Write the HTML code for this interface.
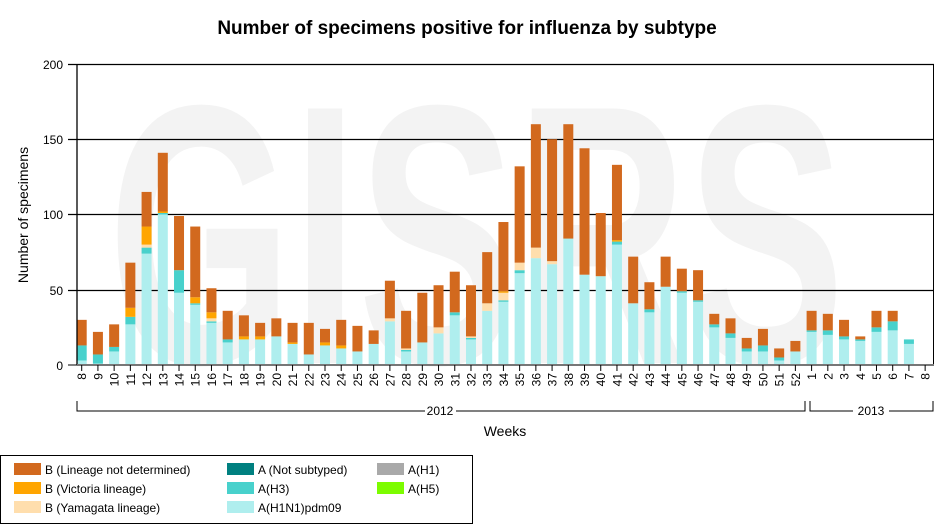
<!DOCTYPE html>
<html><head><meta charset="utf-8"><style>
html,body{margin:0;padding:0;background:#fff;}
svg{display:block;font-family:"Liberation Sans",Arial,sans-serif;}
</style></head><body>
<svg id="s" width="935" height="529" viewBox="0 0 935 529" xmlns="http://www.w3.org/2000/svg">
<g transform="translate(108,363) scale(0.64,1)"><text x="0" y="0" font-size="370" font-weight="bold" fill="#f3f3f3">GISRS</text></g>
<text x="467" y="34" font-size="19" font-weight="bold" text-anchor="middle" fill="#000">Number of specimens positive for influenza by subtype</text>
<g id="grid"></g>
<g id="bars"></g>
<line x1="77" y1="64" x2="77" y2="365" stroke="#000" stroke-width="1.3"/>
<line x1="77" y1="365" x2="934" y2="365" stroke="#777" stroke-width="2"/>
<g font-size="12" text-anchor="end" fill="#000">
<text x="63" y="69">200</text><text x="63" y="144">150</text><text x="63" y="219">100</text><text x="63" y="295">50</text><text x="63" y="370">0</text>
</g>
<text transform="translate(28,215) rotate(-90)" font-size="14" text-anchor="middle">Number of specimens</text>
<g id="xt"></g>
<path d="M77,401V411H425M456,411H805V401" fill="none" stroke="#000" stroke-width="1"/>
<text x="440" y="415" font-size="12" text-anchor="middle">2012</text>
<path d="M810,401V411H853M889,411H933V401" fill="none" stroke="#000" stroke-width="1"/>
<text x="871" y="415" font-size="12" text-anchor="middle">2013</text>
<text x="505" y="436" font-size="14" text-anchor="middle">Weeks</text>
<rect x="0.5" y="455.5" width="472" height="68" fill="#fff" stroke="#000" stroke-width="1"/>
<g font-size="12">
<rect x="14" y="463" width="27" height="12" fill="#d2691e"/><text x="45" y="474">B (Lineage not determined)</text>
<rect x="14" y="482" width="27" height="12" fill="#ffa500"/><text x="45" y="493">B (Victoria lineage)</text>
<rect x="14" y="501" width="27" height="12" fill="#ffdead"/><text x="45" y="512">B (Yamagata lineage)</text>
<rect x="227" y="463" width="27" height="12" fill="#008080"/><text x="258" y="474">A (Not subtyped)</text>
<rect x="227" y="482" width="27" height="12" fill="#48d1cc"/><text x="258" y="493">A(H3)</text>
<rect x="227" y="501" width="27" height="12" fill="#afeeee"/><text x="258" y="512">A(H1N1)pdm09</text>
<rect x="377" y="463" width="27" height="12" fill="#a9a9a9"/><text x="408" y="474">A(H1)</text>
<rect x="377" y="482" width="27" height="12" fill="#7cfc00"/><text x="408" y="493">A(H5)</text>
</g>
</svg>
<script>
var NS="http://www.w3.org/2000/svg";
function el(p,t,a,txt){var e=document.createElementNS(NS,t);for(var k in a)e.setAttribute(k,a[k]);if(txt!=null)e.textContent=txt;p.appendChild(e);return e;}
var g=document.getElementById("grid");
[64,139,214,290].forEach(function(y){el(g,"line",{x1:68,y1:y+0.5,x2:934,y2:y+0.5,stroke:"#000","stroke-width":1.3});});
el(g,"line",{x1:933.5,y1:64,x2:933.5,y2:365,stroke:"#000","stroke-width":1});
[365].forEach(function(y){el(g,"line",{x1:68,y1:y,x2:77,y2:y,stroke:"#000"});});
var d=[[3,10,0,0,17],[1,6,0,0,15],[9,3,0,0,15],[27,5,0,6,30],[74,4,2,12,23],[100,1,0,1,39],[48,15,0,0,36],[40,1,0,4,47],[28,1,2,4,16],[15,2,0,0,19],[17,0,0,2,14],[17,0,0,2,9],[19,0,0,0,12],[14,0,0,1,13],[7,0,0,0,21],[13,0,0,2,9],[11,0,0,2,17],[9,0,0,0,17],
[14,0,0,0,9],[29,0,2,0,25],[9,1,1,0,25],[15,0,0,0,33],[21,0,4,0,28],[33,2,0,0,27],[17,1,1,0,34],[36,0,5,0,34],[42,1,5,1,46],[61,2,5,0,64],[71,0,7,0,82],[67,0,2,0,81],[84,0,0,0,76],[60,0,0,0,84],[59,0,0,0,42],[80,2,0,1,50],[41,0,0,0,31],[35,2,0,0,18],[52,0,0,0,20],
[48,1,0,0,15],[42,1,0,0,20],[25,2,0,0,7],[18,3,0,0,10],[9,2,0,0,7],[9,4,0,0,11],[3,2,0,0,6],[9,0,0,0,7],
[22,1,0,0,13],[20,3,0,0,11],[17,2,0,0,11],[16,1,0,0,2],[22,3,0,0,11],[23,6,0,0,7],[14,3,0,0,0],[0,0,0,0,0]];
var cols=["#afeeee","#48d1cc","#ffdead","#ffa500","#d2691e"];
var b=document.getElementById("bars"),xt=document.getElementById("xt");
var sc=301/200;
for(var i=0;i<53;i++){
 var cx=81.7+i*16.22, y=365, v=d[i];
 for(var j=0;j<5;j++){ if(!v[j])continue; var h=v[j]*sc; y-=h; el(b,"rect",{x:cx-5,y:y,width:10,height:h,fill:cols[j]}); }
 el(xt,"line",{x1:cx,y1:365,x2:cx,y2:371,stroke:"#000"});
 var lab=i<45?(i+8):(i-44);
 el(xt,"text",{transform:"translate("+(cx+4.5)+",373) rotate(-90)","font-size":12,"text-anchor":"end"},String(lab));
}
</script>
</body></html>
